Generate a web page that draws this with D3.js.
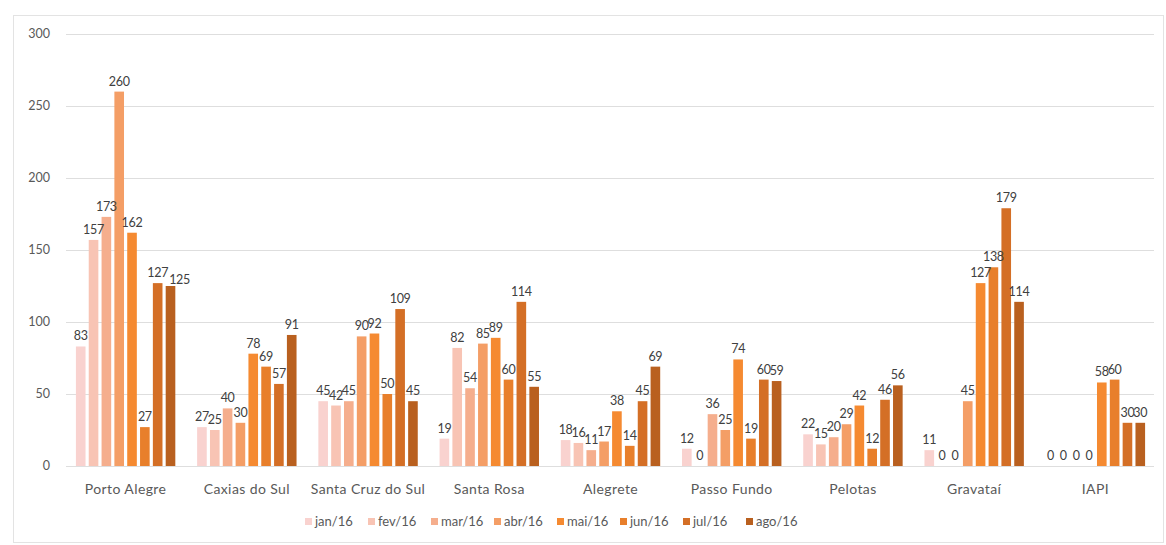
<!DOCTYPE html>
<html>
<head>
<meta charset="utf-8">
<script src="https://cdn.jsdelivr.net/npm/d3@7"></script>
<style>
  body { margin: 0; background: #fff; }
  text { font-family: Lato, "Open Sans", sans-serif; }
</style>
</head>
<body>
<div id="chart"></div>
<script>
const cidades = ["Porto Alegre", "Caxias do Sul", "Santa Cruz do Sul", "Santa Rosa", "Alegrete", "Passo Fundo", "Pelotas", "Gravataí", "IAPI"];
const meses = ["jan/16", "fev/16", "mar/16", "abr/16", "mai/16", "jun/16", "jul/16", "ago/16"];
const cores = ["#f9d2cf", "#f8c4b4", "#f5ae8d", "#f49e66", "#f58a31", "#e87f2b", "#d46f26", "#b9601f"];

// valores por cidade, na ordem dos meses
const portoAlegre = [83, 157, 173, 260, 162, 27, 127, 125];
const caxias = [27, 25, 40, 30, 78, 69, 57, 91];
const santaCruz = [45, 42, 45, 90, 92, 50, 109, 45];
const santaRosa = [19, 82, 54, 85, 89, 60, 114, 55];
const alegrete = [18, 16, 11, 17, 38, 14, 45, 69];
const passoFundo = [12, 0, 36, 25, 74, 19, 60, 59];
const pelotas = [22, 15, 20, 29, 42, 12, 46, 56];
const gravatai = [11, 0, 0, 45, 127, 138, 179, 114];
const iapi = [0, 0, 0, 0, 58, 60, 30, 30];
const yTicks = [0, 50, 100, 150, 200, 250, 300];

const valores = [portoAlegre, caxias, santaCruz, santaRosa, alegrete, passoFundo, pelotas, gravatai, iapi];
const data = cidades.map((c, i) => ({ cidade: c, vals: valores[i] }));

const W = 1166, H = 545;
const svg = d3.select("#chart").append("svg")
    .attr("width", W)
    .attr("height", H);

// moldura
svg.append("rect")
    .attr("x", 13.5).attr("y", 15.5)
    .attr("width", 1150).attr("height", 527)
    .attr("fill", "none")
    .attr("stroke", "#e3e3e3");

let x0 = d3.scaleBand()
    .domain(cidades)
    .range([65, 1156])
    .paddingInner(0.18)
    .paddingOuter(0.09);

let x1 = d3.scaleBand()
    .domain(meses)
    .range([0, x0.bandwidth()])
    .paddingInner(0.25);

let y = d3.scaleLinear()
    .domain([0, 300])
    .range([466, 34]);

let color = d3.scaleOrdinal().domain(meses).range(cores);

// grade
svg.append("g")
    .selectAll("line")
    .data(yTicks)
    .enter()
    .append("line")
    .attr("x1", 66).attr("x2", 1154)
    .attr("y1", d => Math.round(y(d)) + 0.5)
    .attr("y2", d => Math.round(y(d)) + 0.5)
    .attr("stroke", "#dedede");

svg.append("g")
    .selectAll("text")
    .data(yTicks)
    .enter()
    .append("text")
    .attr("x", 50)
    .attr("y", d => y(d) + 4)
    .attr("text-anchor", "end")
    .style("font-size", "12.5px")
    .style("fill", "#595959")
    .text(d => d);

let groups = svg.selectAll(".grupo")
    .data(data)
    .enter()
    .append("g")
    .attr("class", "grupo")
    .attr("transform", d => `translate(${x0(d.cidade)},0)`);

groups.selectAll("rect")
    .data(d => d.vals.map((v, i) => ({ mes: meses[i], v: v })))
    .enter()
    .append("rect")
    .attr("x", d => x1(d.mes))
    .attr("y", d => y(d.v))
    .attr("width", x1.bandwidth())
    .attr("height", d => y(0) - y(d.v))
    .attr("fill", d => color(d.mes));

groups.selectAll(".rotulo")
    .data(d => d.vals.map((v, i) => ({ mes: meses[i], v: v })))
    .enter()
    .append("text")
    .attr("class", "rotulo")
    .attr("x", d => x1(d.mes) + x1.bandwidth() / 2)
    .attr("y", d => y(d.v) - 6)
    .attr("text-anchor", "middle")
    .style("font-size", "12.5px")
    .style("letter-spacing", "-0.3px")
    .style("fill", "#404040")
    .text(d => d.v);

// rótulos de 3 dígitos quase na mesma altura: empurra o segundo para a direita
groups.each(function() {
    let prev = null;
    d3.select(this).selectAll(".rotulo").each(function() {
        let b = this.getBBox();
        if (prev && Math.abs(b.y - prev.y) < 10 && b.x < prev.x + prev.width && b.width > 16) {
            let dx = prev.x + prev.width - b.x + 1;
            d3.select(this).attr("dx", dx).attr("dy", 4);
            b = this.getBBox();
        }
        prev = b;
    });
});

// eixo x
svg.append("g")
    .selectAll("text")
    .data(cidades)
    .enter()
    .append("text")
    .attr("x", d => x0(d) + x0.bandwidth() / 2)
    .attr("y", 494)
    .attr("text-anchor", "middle")
    .style("font-size", "14px")
    .style("letter-spacing", "0.4px")
    .style("fill", "#595959")
    .text(d => d);

// legenda
let leg = svg.append("g").attr("transform", "translate(305,522)");
let item = leg.selectAll("g")
    .data(meses)
    .enter()
    .append("g")
    .attr("transform", (d, i) => `translate(${i * 63},0)`);

item.append("rect")
    .attr("x", 0).attr("y", -4)
    .attr("width", 7).attr("height", 7)
    .attr("fill", d => color(d));

item.append("text")
    .attr("x", 10)
    .attr("y", 4)
    .style("font-size", "13px")
    .style("fill", "#595959")
    .text(d => d);
</script>
</body>
</html>
